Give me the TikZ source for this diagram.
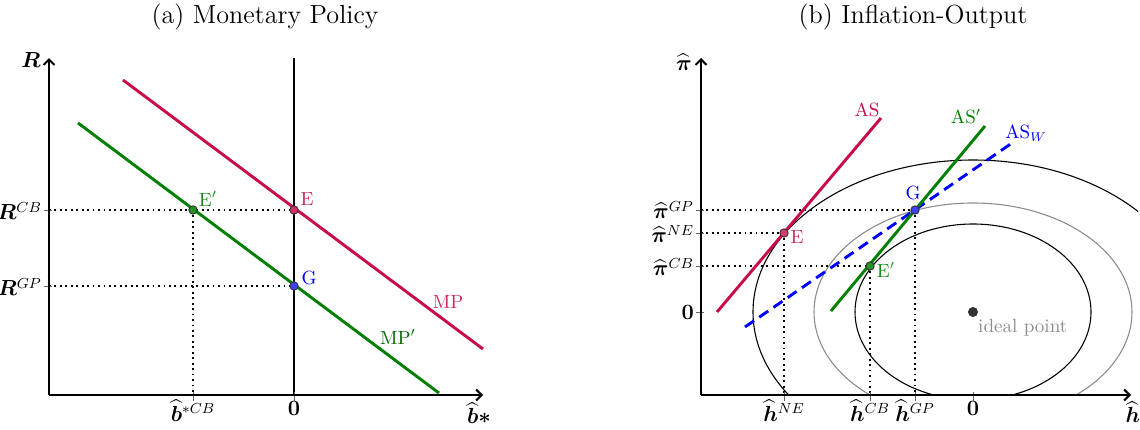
\documentclass[tikz,border=0pt]{standalone}
\usepackage{amsmath,bm}
\usetikzlibrary{arrows.meta}
\definecolor{crim}{RGB}{200,12,72}
\definecolor{crimtext}{RGB}{205,40,95}
\definecolor{dgreen}{RGB}{0,128,0}
\definecolor{ptgray}{RGB}{50,50,50}
\begin{document}
\begin{tikzpicture}[x=0.55pt,y=-0.55pt,
  axis/.style={line width=1.1pt,-{Straight Barb[length=3pt,width=6pt]}},
  vline/.style={line width=0.6pt,black},
  dots/.style={dotted,line width=1pt},
  tick/.style={line width=0.4pt,black!60},
  mpline/.style={line width=1.6pt},
  aswline/.style={line width=1.6pt,blue,dash pattern=on 6pt off 3.5pt},
  ell/.style={line width=0.6pt},
  pt/.style={circle,inner sep=0pt,minimum size=4.6pt,draw=ptgray,line width=0.5pt},
  lab/.style={inner sep=1pt,font=\fontsize{10.5}{12}\selectfont},
  axl/.style={inner sep=1pt,font=\fontsize{12}{14}\selectfont},
  ttl/.style={font=\fontsize{14.4}{17}\selectfont}]
\useasboundingbox (0,0) rectangle (1140,429);

% ---------------- panel (a) ----------------
\node[ttl] (ta) at (265,17) {(a) Monetary Policy};
\coordinate (O1) at (49,395);
\coordinate (Y1) at (49,58);
\coordinate (X1) at (483,395);
\coordinate (Vt) at (294,58);
\coordinate (Vb) at (294,395);
\coordinate (yCB) at (49,210);
\coordinate (yGP) at (49,286);
\coordinate (xCB) at (193,395);
\coordinate (MPs) at (123,80);
\coordinate (MPe) at (483,349);
\coordinate (MQs) at (78,123);
\coordinate (MQe) at (439,393);
\coordinate (Ea) at (294,210);
\coordinate (Epa) at (193,210);
\coordinate (Ga) at (294,286);

\draw[vline] (Vt) -- (Vb);
\draw[dots] (yCB) -- (Ea);
\draw[dots] (yGP) -- (Ga);
\draw[dots] (Epa) -- (xCB);
\draw[dots] (Ea) -- (Vb);
\foreach \y in {210,286} \draw[tick] (44,\y) -- (52,\y);
\foreach \x in {193,294} \draw[tick] (\x,392) -- (\x,401);
\draw[axis] (O1) -- (Y1);
\draw[axis] (O1) -- (X1);
\draw[mpline,crim] (MPs) -- (MPe);
\draw[mpline,dgreen] (MQs) -- (MQe);
\node[pt,fill=crim!85] (E1) at (Ea) {};
\node[pt,fill=dgreen!85] (Ep1) at (Epa) {};
\node[pt,fill=blue!75] (G1) at (Ga) {};

\node[axl] (lR) at (31,60) {$\bm{R}$};
\node[axl,anchor=east] (lRCB) at (44,211) {$\bm{R}^{CB}$};
\node[axl,anchor=east] (lRGP) at (44,287) {$\bm{R}^{GP}$};
\node[axl,anchor=north] (lbCB) at (193,398) {$\widehat{\bm{b}}^{*CB}$};
\node[axl] (l0a) at (294,408) {$\bm{0}$};
\node[axl] (lb) at (479,413) {$\widehat{\bm{b}}\bm{*}$};
\node[lab,text=crimtext] (lE1) at (307,199) {E};
\node[lab,text=dgreen!90] (lEp1) at (208,199) {E$'$};
\node[lab,text=blue] (lG1) at (309,278) {G};
\node[lab,text=crimtext] (lMP) at (448,302) {MP};
\node[lab,text=green!40!black] (lMPp) at (398,337) {MP$'$};

% ---------------- panel (b) ----------------
\node[ttl] (tb) at (913,17) {(b) Inflation-Output};
\coordinate (O2) at (701,395);
\coordinate (Y2) at (701,58);
\coordinate (X2) at (1131,395);
\coordinate (C) at (973,312);
\coordinate (pGP) at (701,210);
\coordinate (pNE) at (701,233);
\coordinate (pCB) at (701,266);
\coordinate (hNE) at (784,395);
\coordinate (hCB) at (870,395);
\coordinate (hGP) at (915,395);
\coordinate (Eb) at (784,233);
\coordinate (Epb) at (870,266);
\coordinate (Gb) at (915,210);
\coordinate (ASs) at (717,312);
\coordinate (ASe) at (881,118);
\coordinate (AQs) at (831,311);
\coordinate (AQe) at (985,126);
\coordinate (AWs) at (745,327);
\coordinate (AWe) at (1012,143);

\begin{scope}
  \clip (701,40) rectangle (1138,395);
  \draw[ell,black] (C) ellipse [x radius=64.9pt, y radius=48.4pt];
  \draw[ell,black!45] (C) ellipse [x radius=87.45pt, y radius=59.95pt];
  \draw[ell,black] (C) ellipse [x radius=121pt, y radius=83.6pt];
\end{scope}

\draw[dots] (pGP) -- (Gb);
\draw[dots] (pNE) -- (Eb);
\draw[dots] (pCB) -- (Epb);
\draw[dots] (Eb) -- (hNE);
\draw[dots] (Epb) -- (hCB);
\draw[dots] (Gb) -- (hGP);
\foreach \y in {210,233,266,312} \draw[tick] (696,\y) -- (704,\y);
\foreach \x in {784,870,915,973} \draw[tick] (\x,392) -- (\x,401);
\draw[axis] (O2) -- (Y2);
\draw[axis] (O2) -- (X2);
\draw[mpline,crim] (ASs) -- (ASe);
\draw[aswline] (AWs) -- (AWe);
\draw[mpline,dgreen] (AQs) -- (AQe);
\node[pt,fill=crim!80] (E2) at (Eb) {};
\node[pt,fill=dgreen!85] (Ep2) at (Epb) {};
\node[pt,fill=blue!75] (G2) at (Gb) {};
\node[circle,fill=ptgray,inner sep=0pt,minimum size=5.5pt] (ideal) at (C) {};

\node[axl] (lpi) at (684,62) {$\widehat{\bm{\pi}}$};
\node[axl,anchor=east] (lpGP) at (696,210) {$\widehat{\bm{\pi}}^{GP}$};
\node[axl,anchor=east] (lpNE) at (696,234) {$\widehat{\bm{\pi}}^{NE}$};
\node[axl,anchor=east] (lpCB) at (696,267) {$\widehat{\bm{\pi}}^{CB}$};
\node[axl,anchor=east] (lp0) at (696,312) {$\bm{0}$};
\node[axl,anchor=north] (lhNE) at (784,398) {$\widehat{\bm{h}}^{NE}$};
\node[axl,anchor=north] (lhCB) at (870,398) {$\widehat{\bm{h}}^{CB}$};
\node[axl,anchor=north] (lhGP) at (915,398) {$\widehat{\bm{h}}^{GP}$};
\node[axl] (l0b) at (973,408) {$\bm{0}$};
\node[axl] (lh) at (1133,412) {$\widehat{\bm{h}}$};
\node[lab,text=crimtext] (lE2) at (797,237) {E};
\node[lab,text=dgreen!90] (lEp2) at (886,270) {E$'$};
\node[lab,text=blue] (lG2) at (913,193) {G};
\node[lab,text=crim] (lAS) at (867,110) {AS};
\node[lab,text=dgreen] (lASp) at (966,117) {AS$'$};
\node[lab,text=blue] (lASW) at (1026,133) {AS$_W$};
\node[lab,text=black!45,anchor=west] (lideal) at (976,328) {ideal point};
\end{tikzpicture}
\end{document}
